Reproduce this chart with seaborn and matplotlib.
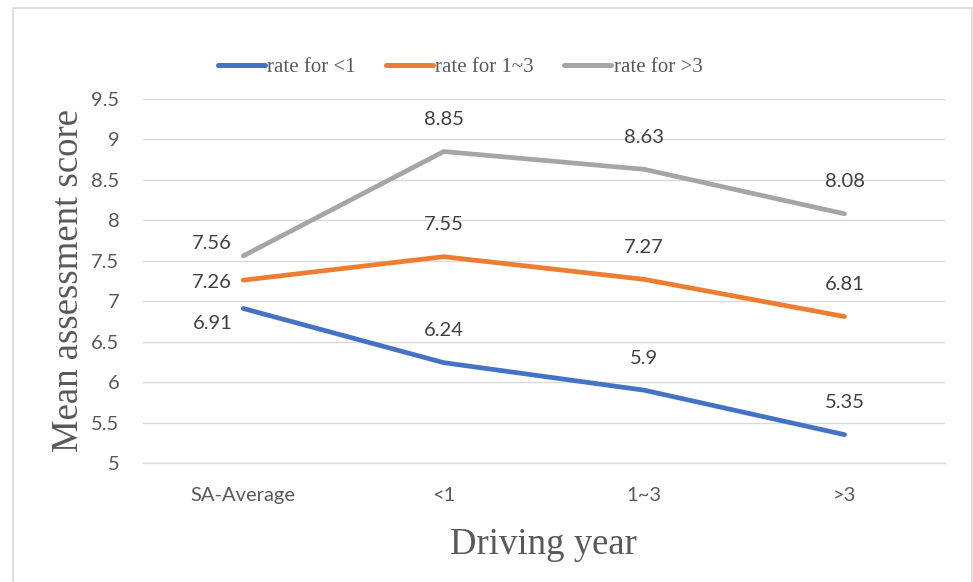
import matplotlib
matplotlib.use("Agg")
import matplotlib.pyplot as plt
from matplotlib.patches import Rectangle
import seaborn as sns
import pandas as pd

# Driving-year groups on the x axis
categories = ["SA-Average", "<1", "1~3", ">3"]

# Mean assessment score for each rater group
series_names = ["rate for <1", "rate for 1~3", "rate for >3"]
rate_lt1 = [6.91, 6.24, 5.9, 5.35]
rate_1to3 = [7.26, 7.55, 7.27, 6.81]
rate_gt3 = [7.56, 8.85, 8.63, 8.08]

y_ticks = [5, 5.5, 6, 6.5, 7, 7.5, 8, 8.5, 9, 9.5]
y_tick_labels = ["5", "5.5", "6", "6.5", "7", "7.5", "8", "8.5", "9", "9.5"]

colors = ["#4472C4", "#ED7D31", "#A5A5A5"]

rows = []
for name, vals in zip(series_names, [rate_lt1, rate_1to3, rate_gt3]):
    for i, (cat, v) in enumerate(zip(categories, vals)):
        rows.append({"pos": i, "year": cat, "score": v, "series": name})
df = pd.DataFrame(rows)

sns.set_theme(style="white")
plt.rcParams["font.family"] = ["Lato", "DejaVu Sans"]

fig = plt.figure(figsize=(9.73, 5.82), dpi=100)
ax = fig.add_axes([0.147, 0.2045, 0.824, 0.6255])

# outer chart border
fig.patches.append(Rectangle((13 / 973, -0.01), (959 / 973), 1 - 7.5 / 582 + 0.01,
                             transform=fig.transFigure, fill=False,
                             edgecolor="#D9D9D9", linewidth=1.2))

sns.lineplot(data=df, x="pos", y="score", hue="series", palette=colors,
             linewidth=3.4, ax=ax, solid_capstyle="round", legend=True)

ax.set_xlim(-0.5, len(categories) - 0.5)
ax.set_ylim(5, 9.5)
ax.set_yticks(y_ticks)
ax.set_yticklabels(y_tick_labels)
ax.set_xticks(range(len(categories)))
ax.set_xticklabels(categories)
ax.tick_params(axis="both", length=0, labelsize=14.5, labelcolor="#595959")
ax.tick_params(axis="y", pad=17)
ax.tick_params(axis="x", pad=17)
ax.grid(axis="y", color="#D9D9D9", linewidth=1)
ax.set_axisbelow(True)
for side in ["top", "right", "left"]:
    ax.spines[side].set_visible(False)
ax.spines["bottom"].set_color("#D9D9D9")
ax.spines["bottom"].set_linewidth(1)

ax.set_xlabel("Driving year", family="Liberation Serif", fontsize=26.5,
              color="#595959", labelpad=17)
ax.set_ylabel("Mean assessment score", family="Liberation Serif", fontsize=26.5,
              color="#595959", labelpad=4)

# value labels: SA-Average labels sit left of the point, the rest above it
first_offsets = [(-8, -11), (-8, -2), (-8, 9)]
for k, vals in enumerate([rate_lt1, rate_1to3, rate_gt3]):
    for i, v in enumerate(vals):
        if i == 0:
            dx, dy = first_offsets[k]
            ax.annotate(f"{v:g}", (i, v), xytext=(dx, dy), textcoords="offset points",
                        ha="right", va="center", fontsize=14.5, color="#404040")
        else:
            ax.annotate(f"{v:g}", (i, v), xytext=(0, 23), textcoords="offset points",
                        ha="center", va="center", fontsize=14.5, color="#404040")

leg = ax.legend(loc="center", bbox_to_anchor=(460 / 973, (582 - 67) / 582), bbox_transform=fig.transFigure,
                ncol=3, frameon=False, handlelength=2.25, handletextpad=0.12,
                columnspacing=1.45, prop={"family": "Liberation Serif", "size": 15})
for t in leg.get_texts():
    t.set_color("#595959")
for h in leg.get_lines():
    h.set_linewidth(3.6)
    h.set_solid_capstyle("round")

fig.savefig("out.png", dpi=100, facecolor="white")
